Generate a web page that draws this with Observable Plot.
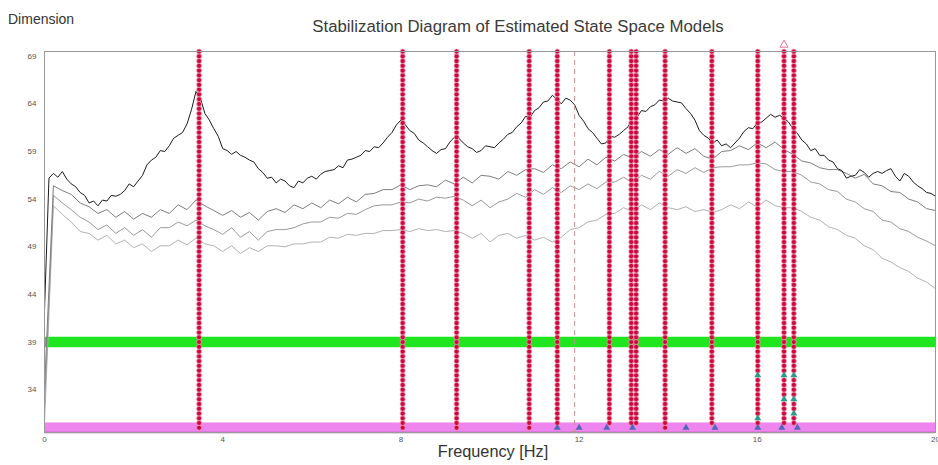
<!DOCTYPE html>
<html><head><meta charset="utf-8">
<script src="https://cdn.jsdelivr.net/npm/d3@7"></script>
<script src="https://cdn.jsdelivr.net/npm/@observablehq/plot@0.6"></script>
<style>
html,body{margin:0;padding:0;background:#fff;}
#wrap{position:relative;width:938px;height:465px;font-family:"Liberation Sans",Arial,sans-serif;overflow:hidden;}
#chart{position:absolute;left:0;top:0;}
#dim{position:absolute;left:8px;top:11px;font-size:14px;color:#333;}
#title{position:absolute;left:0;width:1036px;text-align:center;top:17px;font-size:16.8px;color:#3a3a3a;}
#xlabel{position:absolute;left:0;width:986px;text-align:center;top:442px;font-size:16.3px;color:#333;}
</style></head><body>
<div id="wrap"><div id="chart"></div>
<div id="dim">Dimension</div>
<div id="title">Stabilization Diagram of Estimated State Space Models</div>
<div id="xlabel">Frequency [Hz]</div></div>
<script>
const xTicks = [0, 4, 8, 12, 16, 20];
const yTicks = [34, 39, 44, 49, 54, 59, 64, 69];

const freqGrid = [0,0.2,0.4,0.6,0.8,1,1.2,1.4,1.6,1.8,2,2.2,2.4,2.6,2.8,3,3.2,3.4,3.6,3.8,4,4.2,4.4,4.6,4.8,5,5.2,5.4,5.6,5.8,6,6.2,6.4,6.6,6.8,7,7.2,7.4,7.6,7.8,8,8.2,8.4,8.6,8.8,9,9.2,9.4,9.6,9.8,10,10.2,10.4,10.6,10.8,11,11.2,11.4,11.6,11.8,12,12.2,12.4,12.6,12.8,13,13.2,13.4,13.6,13.8,14,14.2,14.4,14.6,14.8,15,15.2,15.4,15.6,15.8,16,16.2,16.4,16.6,16.8,17,17.2,17.4,17.6,17.8,18,18.2,18.4,18.6,18.8,19,19.2,19.4,19.6,19.8,20];

const freqGridFine = [0,0.1,0.2,0.3,0.4,0.5,0.6,0.7,0.8,0.9,1,1.1,1.2,1.3,1.4,1.5,1.6,1.7,1.8,1.9,2,2.1,2.2,2.3,2.4,2.5,2.6,2.7,2.8,2.9,3,3.1,3.2,3.3,3.4,3.5,3.6,3.7,3.8,3.9,4,4.1,4.2,4.3,4.4,4.5,4.6,4.7,4.8,4.9,5,5.1,5.2,5.3,5.4,5.5,5.6,5.7,5.8,5.9,6,6.1,6.2,6.3,6.4,6.5,6.6,6.7,6.8,6.9,7,7.1,7.2,7.3,7.4,7.5,7.6,7.7,7.8,7.9,8,8.1,8.2,8.3,8.4,8.5,8.6,8.7,8.8,8.9,9,9.1,9.2,9.3,9.4,9.5,9.6,9.7,9.8,9.9,10,10.1,10.2,10.3,10.4,10.5,10.6,10.7,10.8,10.9,11,11.1,11.2,11.3,11.4,11.5,11.6,11.7,11.8,11.9,12,12.1,12.2,12.3,12.4,12.5,12.6,12.7,12.8,12.9,13,13.1,13.2,13.3,13.4,13.5,13.6,13.7,13.8,13.9,14,14.1,14.2,14.3,14.4,14.5,14.6,14.7,14.8,14.9,15,15.1,15.2,15.3,15.4,15.5,15.6,15.7,15.8,15.9,16,16.1,16.2,16.3,16.4,16.5,16.6,16.7,16.8,16.9,17,17.1,17.2,17.3,17.4,17.5,17.6,17.7,17.8,17.9,18,18.1,18.2,18.3,18.4,18.5,18.6,18.7,18.8,18.9,19,19.1,19.2,19.3,19.4,19.5,19.6,19.7,19.8,19.9,20];

const spectrum1 = [42.3,56.2,56.7,56.3,56.9,56.1,55.6,55.3,54.7,54.4,53.6,53.8,53.3,53.9,53.8,54.4,54.3,54.5,54.9,55.6,55.3,55.9,56.5,57.6,58.1,58.4,59.1,59.0,59.6,60.4,60.7,61.0,61.9,63.4,65.3,64.6,63.0,62.3,61.4,60.6,59.3,59.1,58.7,59.0,58.6,58.4,58.1,57.9,57.2,56.8,56.2,56.3,55.7,56.1,55.9,55.4,55.2,55.9,55.7,56.2,56.4,56.1,56.6,56.9,57.0,57.1,57.5,57.3,58.1,58.2,58.4,58.6,59.1,59.0,59.5,59.4,59.9,60.5,61.0,61.8,62.3,61.8,61.2,60.9,60.2,59.9,59.5,59.1,58.8,59.2,59.3,60.0,60.5,60.4,59.9,59.5,59.3,58.9,59.1,59.6,59.5,59.4,59.9,60.3,60.8,61.0,61.6,62.0,62.7,62.6,63.3,63.6,64.2,64.3,64.9,64.5,64.0,64.6,64.4,63.9,62.8,62.2,61.4,61.0,60.4,59.8,59.9,60.6,60.5,60.8,61.2,61.6,62.5,62.6,63.3,63.2,63.7,63.9,64.4,64.3,64.6,64.3,64.2,64.1,63.5,63.0,62.3,61.2,60.7,60.4,59.9,60.2,59.6,59.8,59.4,59.9,60.4,61.1,61.5,61.4,62.0,62.1,62.5,62.9,62.6,62.8,62.5,62.1,61.4,60.9,60.2,59.8,59.1,59.3,58.6,58.6,58.1,57.9,57.2,57.0,56.2,56.4,56.5,57.1,56.8,56.3,56.7,56.9,56.7,57.0,57.2,56.4,55.9,56.7,56.4,55.8,55.4,55.1,54.7,54.6,54.3];
const spectrum2 = [34,55.4,54.9,54.5,53.6,53.2,52.5,52.9,52.1,52.7,51.9,52.5,52.1,52.9,52.5,53.4,52.9,53.9,53.3,52.8,52.3,52.8,52.1,52.6,51.8,52.7,53.0,52.6,53.4,53.0,53.6,53.1,53.9,53.5,54.2,53.7,54.5,54.6,55.0,55.0,55.5,55.0,55.4,55.5,55.3,56.0,55.6,56.3,55.7,56.5,56.4,56.1,56.9,56.5,57.1,57.2,56.8,57.6,57.2,57.9,57.4,58.2,57.6,58.4,58.0,58.7,58.3,59.0,58.5,59.2,58.7,59.4,58.8,59.3,58.5,58.2,59.0,59.1,59.6,59.2,59.9,59.4,60.0,59.2,58.7,58.0,57.8,57.3,57.1,57.1,56.7,56.2,56.6,55.6,55.4,54.8,54.7,54.0,53.7,53.0,52.8];
const spectrum3 = [32,54.4,53.6,52.9,52.1,51.6,50.8,51.3,50.4,51.0,50.2,50.8,50.0,51.0,51.0,51.6,51.2,51.8,51.2,50.8,50.3,51.0,50.0,50.6,49.7,50.6,50.8,50.8,51.0,51.4,51.6,51.6,52.1,52.0,52.5,52.4,52.9,53.3,53.4,53.4,53.7,53.6,54.0,53.8,54.2,54.1,54.3,53.9,53.3,53.9,53.1,53.7,54.0,54.6,54.2,55.0,54.5,55.2,54.7,55.4,55.0,55.6,55.1,55.8,55.8,56.3,55.7,56.5,56.1,56.9,56.4,57.1,56.7,57.3,56.8,57.3,57.4,57.4,57.6,57.6,57.8,57.7,57.1,56.9,56.9,56.5,55.8,55.6,55.0,54.8,54.0,53.7,53.0,52.7,51.8,51.6,50.9,50.6,50.0,49.6,49.1];
const spectrum4 = [30.5,53.3,52.4,51.6,50.6,50.4,49.7,50.2,49.3,49.7,48.9,49.3,48.5,49.1,49.1,49.7,49.2,49.9,49.3,49.1,48.5,49.1,48.3,48.9,48.5,49.1,49.1,49.0,49.3,49.3,49.5,49.5,50.0,49.9,50.3,50.2,50.4,50.4,50.7,50.7,50.8,50.6,50.9,50.7,50.8,50.6,50.7,50.4,49.9,50.4,49.5,50.2,50.4,49.9,50.2,49.7,50.0,49.5,50.0,50.8,51.0,51.6,51.8,52.4,52.5,53.1,52.7,53.4,52.9,53.6,53.1,52.9,53.2,52.7,52.9,52.6,52.9,53.4,53.0,53.7,53.2,53.9,53.3,53.1,53.1,52.7,52.1,51.8,51.1,50.8,50.2,49.9,49.1,48.7,47.8,47.4,46.8,46.4,45.7,45.3,44.6];

const orders = [30,30.5,31,31.5,32,32.5,33,33.5,34,34.5,35,35.5,36,36.5,37,37.5,38,38.5,39,39.5,40,40.5,41,41.5,42,42.5,43,43.5,44,44.5,45,45.5,46,46.5,47,47.5,48,48.5,49,49.5,50,50.5,51,51.5,52,52.5,53,53.5,54,54.5,55,55.5,56,56.5,57,57.5,58,58.5,59,59.5,60,60.5,61,61.5,62,62.5,63,63.5,64,64.5,65,65.5,66,66.5,67,67.5,68,68.5,69,69.5];

const poleFreqs = [3.47, 8.04, 9.25, 10.88, 11.51, 12.68, 13.17, 13.28, 13.93, 14.98, 16.01, 16.6, 16.82];
const poleLowestOrder = [30, 30, 30, 30, 30.5, 30.5, 30.5, 30.5, 30, 30.5, 30.5, 30.5, 30.5];

const unstableFreqs = [16.01, 16.01, 16.6, 16.6, 16.82, 16.82, 16.82];
const unstableOrders = [35.5, 31, 35.5, 33, 35.5, 33, 31.5];

const lowRowFreqs = [11.51, 12.0, 12.62, 13.2, 14.4, 15.05, 16.01, 16.55, 16.9];
const lowRowOrder = 30;

const selectedOrder = 39;
const baseOrder = 30;
const cursorFreq = 11.9;
const markerFreq = 16.6;

const excluded = new Set(unstableFreqs.map((f, i) => f + "|" + unstableOrders[i]));
const poles = poleFreqs.flatMap((f, i) =>
  orders.filter(o => o >= poleLowestOrder[i] && !excluded.has(f + "|" + o)).map(o => ({f, o})));
const unstable = unstableFreqs.map((f, i) => ({f, o: unstableOrders[i]}));
const lowRow = lowRowFreqs.map(f => ({f, o: lowRowOrder}));
const graySeries = [spectrum4, spectrum3, spectrum2];
const grayColors = ["#b2b2b2", "#9a9a9a", "#7e7e7e"];

const chart = Plot.plot({
  width: 938, height: 465,
  marginLeft: 44, marginRight: 3, marginTop: 51, marginBottom: 33,
  x: {domain: [0, 20]},
  y: {domain: [29.5, 69.5]},
  style: {background: "white", fontFamily: "Liberation Sans, Arial, sans-serif", fontSize: "8px", color: "#555"},
  marks: [
    Plot.rect([selectedOrder], {x1: 0, x2: 20, y1: d => d - 0.6, y2: d => d + 0.5, fill: "#1fe61f"}),
    Plot.rect([baseOrder], {x1: 0, x2: 20, y1: d => d - 0.5, y2: d => d + 0.5, fill: "#ee84ee"}),
    Plot.ruleY([29.5], {stroke: "#a855a8", strokeWidth: 1.5}),
    ...graySeries.map((s, k) => Plot.line(freqGrid, {x: d => d, y: (d, i) => s[i], stroke: grayColors[k], strokeWidth: 1})),
    Plot.line(freqGridFine, {x: d => d, y: (d, i) => spectrum1[i], stroke: "#1c1c1c", strokeWidth: 1}),
    Plot.ruleX([cursorFreq], {stroke: "#c89090", strokeDasharray: "5,4", strokeWidth: 1}),
    Plot.dot(poles, {x: "f", y: "o", r: 2.5, fill: "#d0073d", stroke: "#f4a6bc", strokeWidth: 0.7}),
    Plot.dot(unstable, {x: "f", y: "o", r: 2.6, symbol: "triangle", fill: "#2e9a88"}),
    Plot.dot(lowRow, {x: "f", y: "o", r: 2.6, symbol: "triangle", fill: "#5068b4"}),
    Plot.dot([markerFreq], {x: d => d, y: 70.2, r: 3, symbol: "triangle", stroke: "#e07090", fill: "none", strokeWidth: 1}),
    Plot.frame({stroke: "#999"}),
    Plot.axisX({ticks: xTicks, tickSize: 0, tickPadding: 4, label: null, tickFormat: d => String(d)}),
    Plot.axisY({ticks: yTicks, tickSize: 0, tickPadding: 8, label: null})
  ]
});
document.getElementById("chart").appendChild(chart);
</script>
</body></html>
